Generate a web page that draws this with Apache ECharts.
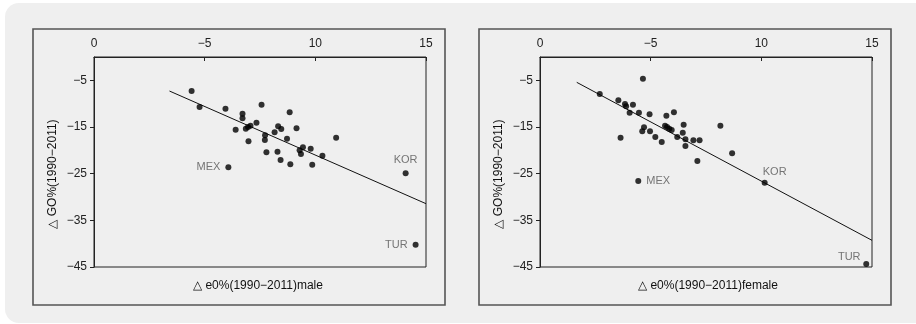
<!DOCTYPE html>
<html>
<head>
<meta charset="utf-8">
<script src="https://cdn.jsdelivr.net/npm/echarts@6/dist/echarts.min.js"></script>
<style>html,body{margin:0;padding:0;background:#fff;}#c{width:916px;height:324px;}</style>
</head>
<body>
<div id="c"></div>
<script>
// ---- data ----
const xTickLabels = ['0', '−5', '10', '15'];
const yTickValues = [-45, -35, -25, -15, -5];
const yTickLabels = ['−45', '−35', '−25', '−15', '−5'];

const maleX = [4.41, 4.77, 5.94, 6.71, 6.71, 7.57, 8.84, 6.40, 6.86, 6.96, 7.07, 7.34, 6.98, 7.73, 7.72, 7.79, 8.16, 8.32, 8.46, 8.72, 8.29, 8.43, 8.87, 9.15, 9.29, 9.35, 9.44, 9.79, 9.86, 10.32, 10.94, 6.07, 14.08, 14.53];
const maleY = [-7.29, -10.71, -11.07, -12.14, -13.14, -10.21, -11.86, -15.57, -15.36, -15.0, -14.71, -14.07, -18.07, -16.79, -17.79, -20.43, -16.14, -14.86, -15.43, -17.5, -20.29, -22.07, -23.0, -15.29, -20.0, -20.79, -19.36, -19.64, -23.07, -21.14, -17.29, -23.64, -24.93, -40.21];
const maleNames = ['', '', '', '', '', '', '', '', '', '', '', '', '', '', '', '', '', '', '', '', '', '', '', '', '', '', '', '', '', '', '', 'MEX', 'KOR', 'TUR'];
const maleLineX = [3.41, 15.0];
const maleLineY = [-7.29, -31.43];

const femaleX = [2.70, 3.54, 3.84, 3.89, 4.20, 4.05, 4.47, 4.65, 4.95, 3.64, 4.62, 4.70, 4.97, 5.21, 5.50, 5.71, 6.05, 5.65, 5.74, 5.84, 5.95, 6.20, 6.49, 6.45, 6.57, 6.57, 6.93, 7.21, 7.11, 8.15, 8.68, 4.44, 10.15, 14.74];
const femaleY = [-7.93, -9.29, -10.07, -10.57, -10.21, -11.93, -11.93, -4.64, -12.29, -17.29, -15.93, -15.07, -15.93, -17.14, -18.21, -12.57, -11.86, -14.71, -15.0, -15.36, -15.64, -17.14, -14.5, -16.21, -17.64, -19.07, -17.86, -17.86, -22.29, -14.71, -20.64, -26.57, -26.93, -44.36];
const femaleNames = ['', '', '', '', '', '', '', '', '', '', '', '', '', '', '', '', '', '', '', '', '', '', '', '', '', '', '', '', '', '', '', 'MEX', 'KOR', 'TUR'];
const femaleLineX = [1.66, 15.0];
const femaleLineY = [-5.43, -39.29];

const xNames = ['△ e0%(1990−2011)male', '△ e0%(1990−2011)female'];
const yName = '△ GO%(1990−2011)';

// ---- styles ----
const FONT = '"Liberation Sans", Arial, sans-serif';
const labelPos = [
  {MEX: {position: 'left', distance: 5}, KOR: {position: 'top', distance: 5}, TUR: {position: 'left', distance: 5}},
  {MEX: {position: 'right', distance: 5},
   KOR: {position: [13, -8], align: 'center', verticalAlign: 'middle'},
   TUR: {position: [-14, -4], align: 'center', verticalAlign: 'middle'}}
];

function pts(xs, ys, names, pos) {
  return xs.map((x, i) => {
    const d = {value: [x, ys[i]]};
    if (names[i]) {
      d.name = names[i];
      d.label = Object.assign({show: true, formatter: '{b}', color: '#555', fontSize: 11, fontFamily: FONT}, pos[names[i]]);
    }
    return d;
  });
}

const grids = [
  {left: 94, top: 57, width: 332, height: 210},
  {left: 540, top: 57, width: 332, height: 210}
];

const chart = echarts.init(document.getElementById('c'), null, {renderer: 'canvas'});
const xAxes = [], yAxes = [], series = [];
grids.forEach((g, i) => {
  xAxes.push({
    gridIndex: i, type: 'value', position: 'top', min: 0, max: 15, interval: 5,
    axisLine: {show: true, onZero: false, lineStyle: {color: '#222', width: 1}},
    axisTick: {show: true, inside: true, length: 4, lineStyle: {color: '#222'}},
    axisLabel: {color: '#222', fontSize: 12, fontFamily: FONT, margin: 7, formatter: v => xTickLabels[Math.round(v / 5)]},
    splitLine: {show: false}
  });
  yAxes.push({
    gridIndex: i, type: 'value', min: -45, max: 0,
    axisLine: {show: true, onZero: false, lineStyle: {color: '#222', width: 1}},
    axisTick: {show: true, inside: false, length: 4, customValues: yTickValues, lineStyle: {color: '#222'}},
    axisLabel: {color: '#222', fontSize: 12, fontFamily: FONT, margin: 7, customValues: yTickValues,
      formatter: v => yTickLabels[yTickValues.indexOf(v)]},
    splitLine: {show: false}
  });
});

const sets = [
  [maleX, maleY, maleNames, maleLineX, maleLineY],
  [femaleX, femaleY, femaleNames, femaleLineX, femaleLineY]
];
sets.forEach((s, i) => {
  series.push({
    type: 'line', xAxisIndex: i, yAxisIndex: i, data: s[3].map((x, k) => [x, s[4][k]]),
    symbol: 'none', lineStyle: {color: '#111', width: 1}, silent: true, z: 2
  });
  series.push({
    type: 'scatter', xAxisIndex: i, yAxisIndex: i, data: pts(s[0], s[1], s[2], labelPos[i]),
    symbol: 'circle', symbolSize: 6, itemStyle: {color: '#000'}, z: 3,
    labelLayout: {hideOverlap: false}
  });
});

const graphic = [
  {type: 'rect', shape: {x: 5, y: 3, width: 940, height: 320, r: 14}, style: {fill: '#efefef'}, z: -10, silent: true},
  {type: 'rect', shape: {x: 33, y: 29, width: 412, height: 276}, style: {fill: 'none', stroke: '#555', lineWidth: 1.6}, z: -5, silent: true},
  {type: 'rect', shape: {x: 479, y: 29, width: 412, height: 276}, style: {fill: 'none', stroke: '#555', lineWidth: 1.6}, z: -5, silent: true},
  {type: 'text', x: 258, y: 286, style: {text: xNames[0], fill: '#111', font: '12px ' + FONT, align: 'center', verticalAlign: 'middle'}},
  {type: 'text', x: 708, y: 286, style: {text: xNames[1], fill: '#111', font: '12px ' + FONT, align: 'center', verticalAlign: 'middle'}},
  {type: 'text', x: 53, y: 174, rotation: Math.PI / 2, style: {text: yName, fill: '#111', font: '12px ' + FONT, align: 'center', verticalAlign: 'middle'}},
  {type: 'text', x: 499, y: 174, rotation: Math.PI / 2, style: {text: yName, fill: '#111', font: '12px ' + FONT, align: 'center', verticalAlign: 'middle'}}
];

chart.setOption({
  animation: false,
  backgroundColor: '#fff',
  grid: grids.map(g => Object.assign({show: true, borderColor: '#222', borderWidth: 1, backgroundColor: 'transparent', containLabel: false}, g)),
  xAxis: xAxes,
  yAxis: yAxes,
  series: series,
  graphic: graphic
});
</script>
</body>
</html>
